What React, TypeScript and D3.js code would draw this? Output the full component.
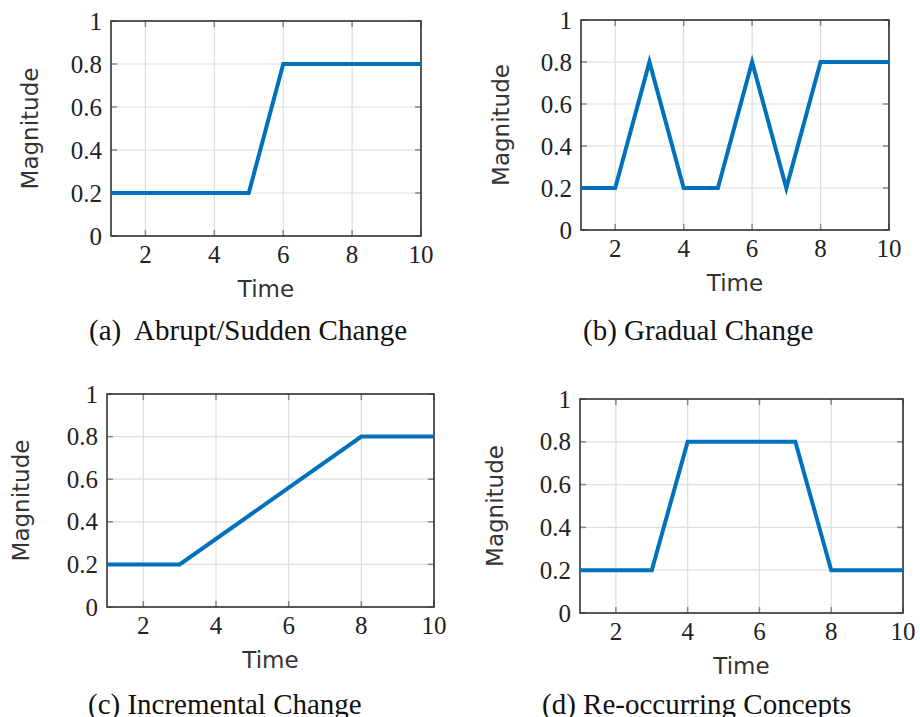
import React, { useEffect, useRef } from 'react';
import * as d3 from 'd3';

// data per panel
const abruptTime = [1, 5, 6, 10];
const abruptMag = [0.2, 0.2, 0.8, 0.8];
const gradualTime = [1, 2, 3, 4, 5, 6, 7, 8, 10];
const gradualMag = [0.2, 0.2, 0.8, 0.2, 0.2, 0.8, 0.2, 0.8, 0.8];
const incrTime = [1, 3, 8, 10];
const incrMag = [0.2, 0.2, 0.8, 0.8];
const recurTime = [1, 3, 4, 7, 8, 10];
const recurMag = [0.2, 0.2, 0.8, 0.8, 0.2, 0.2];

const xTicks = [2, 4, 6, 8, 10];
const yTicks = [0, 0.2, 0.4, 0.6, 0.8, 1];
const yTickLabels = ['0', '0.2', '0.4', '0.6', '0.8', '1'];
const captions = ['(a)  Abrupt/Sudden Change', '(b) Gradual Change', '(c) Incremental Change', '(d) Re-occurring Concepts'];

const panels = [
    { t: abruptTime, m: abruptMag, box: [111, 421, 21, 236], cap: [89, 340], ylab: -79 },
    { t: gradualTime, m: gradualMag, box: [581, 889, 20, 230], cap: [583, 340], ylab: -78 },
    { t: incrTime, m: incrMag, box: [107, 434, 394, 607], cap: [88, 714], ylab: -84 },
    { t: recurTime, m: recurMag, box: [580, 903, 399, 613], cap: [542, 714], ylab: -83 },
];

const SERIF = "'Liberation Serif', 'Times New Roman', serif";
const SANS = "'DejaVu Sans', sans-serif";

function App() {
    const svgRef = useRef(null);

    useEffect(() => {
        const svg = d3.select(svgRef.current);
        svg.html('');

        panels.forEach((p, i) => {
            const [l, r, t, b] = p.box;
            const x = d3.scaleLinear().domain([1, 10]).range([l, r]);
            const y = d3.scaleLinear().domain([0, 1]).range([b, t]);
            const g = svg.append('g');

            // grid
            g.selectAll('.gx').data(xTicks).join('line')
                .attr('class', 'gx')
                .attr('x1', d => x(d)).attr('x2', d => x(d))
                .attr('y1', t).attr('y2', b)
                .attr('stroke', '#dedede').attr('stroke-width', 1.2);
            g.selectAll('.gy').data(yTicks).join('line')
                .attr('class', 'gy')
                .attr('x1', l).attr('x2', r)
                .attr('y1', d => y(d)).attr('y2', d => y(d))
                .attr('stroke', '#dedede').attr('stroke-width', 1.2);

            // inward ticks on all sides
            const tk = 6;
            xTicks.forEach(d => {
                g.append('line').attr('x1', x(d)).attr('x2', x(d)).attr('y1', b).attr('y2', b - tk)
                    .attr('stroke', '#888').attr('stroke-width', 1.5);
                g.append('line').attr('x1', x(d)).attr('x2', x(d)).attr('y1', t).attr('y2', t + tk)
                    .attr('stroke', '#888').attr('stroke-width', 1.5);
            });
            yTicks.forEach(d => {
                g.append('line').attr('x1', l).attr('x2', l + tk).attr('y1', y(d)).attr('y2', y(d))
                    .attr('stroke', '#888').attr('stroke-width', 1.5);
                g.append('line').attr('x1', r).attr('x2', r - tk).attr('y1', y(d)).attr('y2', y(d))
                    .attr('stroke', '#888').attr('stroke-width', 1.5);
            });

            // frame
            g.append('rect').attr('x', l).attr('y', t).attr('width', r - l).attr('height', b - t)
                .attr('fill', 'none').attr('stroke', '#333').attr('stroke-width', 1.6);

            // line
            const line = d3.line<number>().x(d => x(p.t[d])).y(d => y(p.m[d]));
            g.append('path')
                .attr('d', line(d3.range(p.t.length)))
                .attr('fill', 'none')
                .attr('stroke', '#0072BD')
                .attr('stroke-width', 4)
                .attr('stroke-linejoin', 'miter');

            // tick labels
            g.selectAll('.xl').data(xTicks).join('text')
                .attr('class', 'xl')
                .attr('x', d => x(d)).attr('y', b + 27)
                .attr('text-anchor', 'middle')
                .attr('font-family', SERIF).attr('font-size', 25)
                .attr('fill', '#222')
                .text(d => String(d));
            g.selectAll('.yl').data(yTicks).join('text')
                .attr('class', 'yl')
                .attr('x', l - 9).attr('y', d => y(d)).attr('dy', '0.34em')
                .attr('text-anchor', 'end')
                .attr('font-family', SERIF).attr('font-size', 25)
                .attr('fill', '#222')
                .text((d, j) => yTickLabels[j]);

            // axis titles
            g.append('text')
                .attr('x', (l + r) / 2).attr('y', b + 61)
                .attr('text-anchor', 'middle')
                .attr('font-family', SANS).attr('font-size', 23)
                .attr('fill', '#333')
                .text('Time');
            const cy = (t + b) / 2;
            const cx = l + p.ylab + 6;
            g.append('text')
                .attr('transform', `translate(${cx},${cy}) rotate(-90)`)
                .attr('text-anchor', 'middle')
                .attr('font-family', SANS).attr('font-size', 23)
                .attr('fill', '#333')
                .text('Magnitude');

            // caption
            g.append('text')
                .attr('x', p.cap[0]).attr('y', p.cap[1])
                .attr('font-family', SERIF).attr('font-size', 29)
                .style('white-space', 'pre')
                .attr('fill', '#111')
                .text(captions[i]);
        });
    }, []);

    return (
        <svg ref={svgRef} width={920} height={717}
            style={{ position: 'absolute', left: 0, top: 0, background: '#fff' }}></svg>
    );
}

export default App;
